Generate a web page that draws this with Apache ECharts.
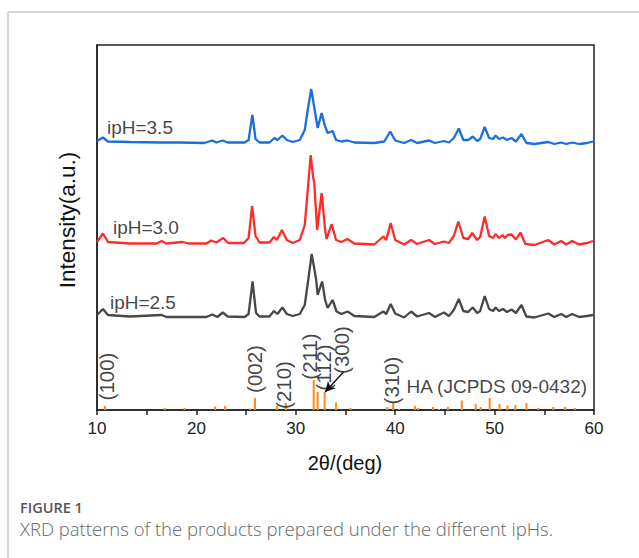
<!DOCTYPE html>
<html><head><meta charset="utf-8">
<script src="https://cdn.jsdelivr.net/npm/echarts@6/dist/echarts.min.js"></script>
<style>html,body{margin:0;padding:0;background:#fff}#c{width:639px;height:558px}</style>
</head><body><div id="c"></div>
<script>
// 2θ (deg), intensity (a.u., stacked with offsets as drawn)
const ipH35 = [[10.0,269],[10.6,272.5],[11.1,268.5],[13.3,268],[16.3,267.5],[18.3,267.5],[20.8,267],[21.6,269.5],[22.0,267.5],[22.65,269.5],[23.15,267.5],[24.85,267.5],[25.25,270],[25.63,295],[25.95,271],[26.35,267.5],[27.35,267.5],[27.85,272],[28.15,270],[28.65,274.5],[29.1,270],[29.7,268],[30.4,270],[30.9,280],[31.2,300],[31.55,321],[31.7,312],[31.9,300],[32.2,282],[32.6,297],[32.9,285],[33.2,277],[33.7,279],[34.05,270],[34.6,268.5],[35.2,269.5],[35.9,267.5],[37.9,267],[38.9,268.5],[39.5,278.5],[40.0,269.5],[40.9,267],[41.6,270],[42.2,267],[43.4,269.5],[44.0,267],[44.9,269],[45.4,267.5],[45.9,272],[46.4,281.5],[46.85,270],[47.35,270],[47.8,273.5],[48.25,269],[48.55,271],[49.0,283],[49.45,272],[49.85,271],[50.1,274.5],[50.45,271],[50.85,272.5],[51.25,270],[51.7,272],[52.15,268.5],[52.7,276],[53.2,267],[54.0,266],[55.4,268],[56.0,266],[56.7,267.5],[57.2,266],[57.8,267.5],[58.5,266],[59.3,267],[59.9,268.5]];
const ipH30 = [[10.0,168],[10.6,176.5],[11.1,168],[13.3,166.5],[16.0,166.5],[16.5,169],[17.0,166.5],[18.6,168],[19.2,166.5],[21.0,166.5],[21.5,169.5],[22.0,167.5],[22.7,172],[23.2,167],[24.8,167],[25.25,172],[25.6,204],[25.95,174],[26.35,167.5],[27.35,167.5],[27.8,173],[28.1,170],[28.6,180],[29.1,170],[29.7,167],[30.4,170],[30.9,185],[31.2,220],[31.5,255],[31.75,232],[31.85,228],[32.15,180],[32.6,217],[32.95,180],[33.1,171],[33.6,186],[34.05,170],[34.6,168],[35.2,171],[35.9,166.5],[37.9,165.5],[38.8,173.5],[39.1,170],[39.55,187],[40.0,170],[40.9,165.5],[41.6,170],[42.2,166],[43.4,170],[44.0,166],[44.9,168.5],[45.4,167],[45.9,174],[46.35,188.5],[46.85,172],[47.35,171],[47.75,177],[48.25,170],[48.55,173],[49.0,193.5],[49.45,174],[49.85,172],[50.1,176],[50.45,172],[50.8,175],[51.05,172],[51.3,175],[51.7,175.5],[52.15,170.5],[52.6,177.5],[53.1,166],[54.0,165],[55.4,170],[56.0,165.5],[56.7,169],[57.2,165.5],[57.8,169],[58.5,165.5],[59.3,167],[59.9,169]];
const ipH25 = [[10.0,95],[10.6,101],[11.1,95],[13.3,93.5],[16.5,95],[17.0,93],[21.0,93],[21.6,95.5],[22.1,93],[22.65,97.5],[23.15,93.5],[24.85,93],[25.25,96],[25.65,128.5],[26.0,97],[26.35,93.5],[27.35,93.5],[27.8,99],[28.15,96],[28.65,102.5],[29.1,96],[29.7,94],[30.4,96],[30.9,105],[31.25,130],[31.6,156],[31.85,142],[32.05,130],[32.2,115],[32.65,128.5],[32.95,110],[33.2,102],[33.7,110],[34.1,98.5],[34.6,96],[35.2,98.5],[35.9,94],[37.9,93],[38.8,98.5],[39.1,96],[39.55,106],[40.0,96.5],[40.9,92.5],[41.6,98.5],[42.2,93.5],[43.4,97],[44.0,93],[44.9,97.5],[45.4,94],[45.9,100],[46.4,111],[46.85,99],[47.35,98],[47.8,102.5],[48.25,97],[48.55,99],[49.0,114],[49.45,101],[49.85,99],[50.1,102.5],[50.45,99],[50.85,101],[51.25,98],[51.7,100.5],[52.15,97],[52.7,105],[53.2,93.5],[54.0,92.5],[55.4,96.5],[56.0,93],[56.7,96],[57.2,93],[57.8,96],[58.5,93],[59.3,94],[59.9,95]];
// HA reference (JCPDS 09-0432) stick pattern
const haSticks = [[10.8,4],[16.8,2],[18.8,2],[21.9,3.5],[22.9,4],[25.4,1.5],[25.9,12],[28.1,4],[29.0,7],[31.8,30],[32.2,18],[32.9,18],[34.05,7.5],[35.5,2],[39.2,3],[39.8,7],[40.4,1],[42.0,4],[42.3,2],[43.8,3],[44.4,1],[45.3,3],[46.7,9.5],[48.1,6],[48.6,3],[49.5,12],[50.5,6],[51.3,4.5],[52.1,5],[53.2,7],[54.4,2],[55.9,3],[57.1,3],[58.1,2]];
const hklNames = ['(100)','(002)','(210)','(211)','(112)','(300)','(310)'];
const hklPos = [[11.0,33.5],[25.86,41],[28.78,25],[31.4,53.5],[32.8,42.5],[34.6,60],[39.6,29.5]];
const seriesNames = ['ipH=3.5','ipH=3.0','ipH=2.5'];
const seriesLabelPos = [[11.0,283],[11.6,183],[11.3,108]];
const refName = 'HA (JCPDS 09-0432)';
const refLabelPos = [59.3,24];
const xTicks = [10,20,30,40,50,60];

const FONT = 'Liberation Sans, Arial, sans-serif';
const chart = echarts.init(document.getElementById('c'), null, {renderer:'svg'});
const labelData = hklNames.map((n,i)=>({name:n, value:hklPos[i], label:{rotate:90, fontSize:20.5, align:'center', verticalAlign:'middle'}}));
seriesNames.forEach((n,i)=>labelData.push({name:n, value:seriesLabelPos[i], label:{rotate:0, align:'left', verticalAlign:'middle'}}));
labelData.push({name:refName, value:refLabelPos, label:{rotate:0, align:'right', verticalAlign:'middle'}});

chart.setOption({
  animation:false,
  grid:{left:97,right:45,top:45,bottom:148,show:true,borderColor:'#222',borderWidth:1.5,backgroundColor:'transparent'},
  xAxis:{type:'value',min:xTicks[0],max:xTicks[xTicks.length-1],interval:10,
    axisLine:{show:true,lineStyle:{color:'#222',width:1.5}},
    axisTick:{show:true,length:5,lineStyle:{color:'#222',width:1.5}},
    minorTick:{show:true,splitNumber:2,length:5,lineStyle:{color:'#222',width:1.5}},
    axisLabel:{fontSize:17,color:'#222',margin:10,fontFamily:FONT},
    splitLine:{show:false}},
  yAxis:{type:'value',min:0,max:365,axisLine:{show:true,lineStyle:{color:'#222',width:1.5}},
    axisTick:{show:false},axisLabel:{show:false},splitLine:{show:false}},
  series:[
    {type:'bar',name:'HA',data:haSticks,barWidth:2,itemStyle:{color:'#ff8a14'},z:2,
      markLine:{silent:true,symbol:['none','arrow'],symbolSize:[8,10],
        lineStyle:{color:'#111',type:'solid',width:1.3},label:{show:false},
        data:[[{coord:[34.8,38]},{coord:[32.95,18]}]]}},
    {type:'line',name:seriesNames[2],data:ipH25,showSymbol:false,lineStyle:{color:'#474747',width:2.3},z:3},
    {type:'line',name:seriesNames[1],data:ipH30,showSymbol:false,lineStyle:{color:'#ff2a2a',width:2.3},z:3},
    {type:'line',name:seriesNames[0],data:ipH35,showSymbol:false,lineStyle:{color:'#1a6ede',width:2.3},z:3},
    {type:'scatter',data:labelData,symbolSize:1,itemStyle:{color:'rgba(0,0,0,0)'},z:5,silent:true,
      label:{show:true,position:'inside',formatter:'{b}',fontSize:19,color:'#111',fontFamily:FONT}}
  ],
  graphic:[
    {type:'line',shape:{x1:8,y1:12,x2:639,y2:12},style:{stroke:'#d6d6d6',lineWidth:2}},
    {type:'line',shape:{x1:8,y1:12,x2:8,y2:558},style:{stroke:'#d6d6d6',lineWidth:2}},
    {type:'text',x:345,y:463,style:{text:'2θ/(deg)',font:'20px '+FONT,fill:'#111',textAlign:'center',textVerticalAlign:'middle'}},
    {type:'text',x:67,y:220,rotation:Math.PI/2,style:{text:'Intensity(a.u.)',font:'22.5px '+FONT,fill:'#111',textAlign:'center',textVerticalAlign:'middle'}},
    {type:'text',x:20,y:507,style:{text:'FIGURE 1',font:'600 14.5px "Open Sans", sans-serif',fill:'#555',textVerticalAlign:'middle'}},
    {type:'text',x:20,y:528,style:{text:'XRD patterns of the products prepared under the different ipHs.',font:'300 18.5px "Open Sans", sans-serif',fill:'#666',textVerticalAlign:'middle'}}
  ]
});
</script></body></html>
